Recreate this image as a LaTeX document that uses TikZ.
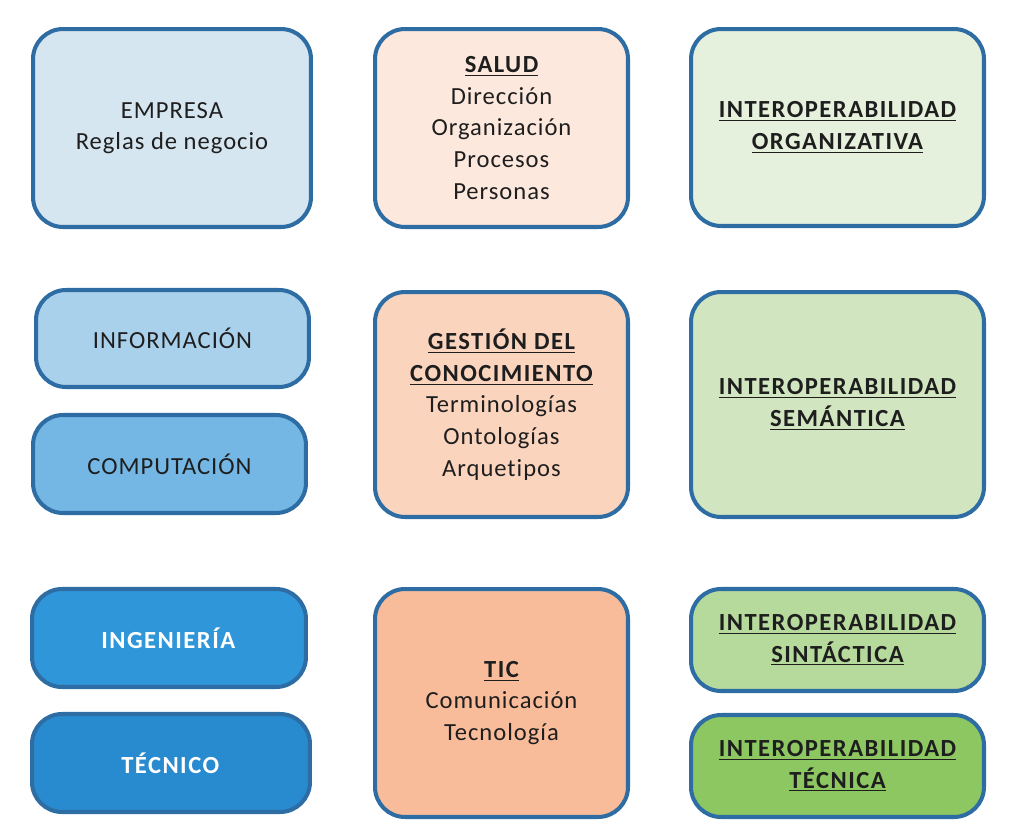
\documentclass[tikz,border=0pt]{standalone}
\usepackage{fontspec}
\setmainfont[LetterSpace=4,Ligatures={NoCommon},
  BoldFeatures={LetterSpace=6}]{Carlito}
\usepackage{tikz}

\definecolor{edgeblue}{HTML}{2E6DA4}
\definecolor{empfill}{HTML}{D6E6F0}
\definecolor{inffill}{HTML}{AAD1EB}
\definecolor{compfill}{HTML}{74B7E5}
\definecolor{ingfill}{HTML}{3096DA}
\definecolor{tecfill}{HTML}{288ACF}
\definecolor{salfill}{HTML}{FDE8DD}
\definecolor{gesfill}{HTML}{FBD4BE}
\definecolor{ticfill}{HTML}{F9BC9B}
\definecolor{orgfill}{HTML}{E5F1DC}
\definecolor{semfill}{HTML}{D1E6C0}
\definecolor{sinfill}{HTML}{B6D99C}
\definecolor{tecnfill}{HTML}{8DC761}
\definecolor{txt}{HTML}{1E1E1E}

\newcommand{\hd}[1]{\textbf{\underline{#1}}}

\begin{document}
\begin{tikzpicture}[
  x=0.02cm,y=-0.02cm,
  box/.style={draw=edgeblue,line width=2.3pt,rounded corners=0.6cm,
    align=center,text=txt,inner sep=0pt,
    font=\fontsize{14}{18}\selectfont},
  wide/.style={minimum width=5.56cm},
  mid/.style={minimum width=5.06cm},
  right/.style={minimum width=5.86cm}
]
  \useasboundingbox (0,0) rectangle (1025,832);

  % column 1
  \node[box,wide,fill=empfill,minimum height=3.96cm] (empresa) at (172,128)
    {EMPRESA\\Reglas de negocio};
  \node[box,minimum width=5.46cm,fill=inffill,minimum height=1.94cm] (informacion) at (172.5,338.5)
    {INFORMACIÓN};
  \node[box,minimum width=5.46cm,fill=compfill,minimum height=1.96cm] (computacion) at (169.5,464)
    {COMPUTACIÓN};
  \node[box,minimum width=5.48cm,fill=ingfill,minimum height=1.96cm,text=white] (ingenieria) at (169,638)
    {\textbf{INGENIERÍA}};
  \node[box,wide,fill=tecfill,minimum height=1.96cm,text=white] (tecnico) at (171,763)
    {\textbf{TÉCNICO}};

  % column 2
  \node[box,mid,fill=salfill,minimum height=3.96cm] (salud) at (501.5,128)
    {\hd{SALUD}\\Dirección\\Organización\\Procesos\\Personas};
  \node[box,mid,fill=gesfill,minimum height=4.5cm] (gestion) at (501.5,404.5)
    {\hd{GESTIÓN DEL}\\\hd{CONOCIMIENTO}\\Terminologías\\Ontologías\\Arquetipos};
  \node[box,mid,fill=ticfill,minimum height=4.56cm] (tic) at (501.5,703)
    {\hd{TIC}\\Comunicación\\Tecnología};

  % column 3
  \node[box,right,fill=orgfill,minimum height=3.94cm] (organizativa) at (837.5,127.5)
    {\hd{INTEROPERABILIDAD}\\\hd{ORGANIZATIVA}};
  \node[box,right,fill=semfill,minimum height=4.5cm] (semantica) at (837.5,404.5)
    {\hd{INTEROPERABILIDAD}\\\hd{SEMÁNTICA}};
  \node[box,right,fill=sinfill,minimum height=2.04cm] (sintactica) at (837.5,640)
    {\hd{INTEROPERABILIDAD}\\\hd{SINTÁCTICA}};
  \node[box,right,fill=tecnfill,minimum height=2.04cm] (tecnica) at (837.5,766)
    {\hd{INTEROPERABILIDAD}\\\hd{TÉCNICA}};
\end{tikzpicture}
\end{document}
